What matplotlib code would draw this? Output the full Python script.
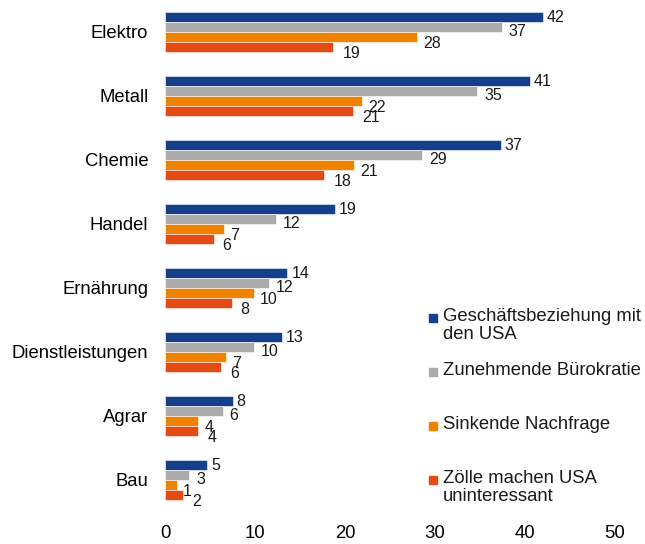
import matplotlib
matplotlib.use("Agg")
import matplotlib.pyplot as plt
import numpy as np

plt.rcParams['font.family'] = ['Liberation Sans', 'DejaVu Sans']

categories = ["Elektro", "Metall", "Chemie", "Handel", "Ernährung",
              "Dienstleistungen", "Agrar", "Bau"]
series_names = ["Geschäftsbeziehung mit\nden USA", "Zunehmende Bürokratie",
                "Sinkende Nachfrage", "Zölle machen USA\nuninteressant"]
colors = ["#133F8D", "#ABABAB", "#F18200", "#E64A12"]

# bar lengths as drawn
geschaeft = [42.0, 40.5, 37.3, 18.9, 13.6, 13.0, 7.5, 4.7]
buerokratie = [37.4, 34.7, 28.6, 12.3, 11.5, 9.9, 6.4, 2.7]
nachfrage = [28.0, 21.9, 21.0, 6.6, 9.9, 6.8, 3.7, 1.3]
zoelle = [18.7, 20.9, 17.7, 5.4, 7.4, 6.2, 3.7, 2.0]
# printed data labels
lab_geschaeft = [42, 41, 37, 19, 14, 13, 8, 5]
lab_buerokratie = [37, 35, 29, 12, 12, 10, 6, 3]
lab_nachfrage = [28, 22, 21, 7, 10, 7, 4, 1]
lab_zoelle = [19, 21, 18, 6, 8, 6, 4, 2]

xticks = [0, 10, 20, 30, 40, 50]

series = [geschaeft, buerokratie, nachfrage, zoelle]
labels = [lab_geschaeft, lab_buerokratie, lab_nachfrage, lab_zoelle]
lab_dx = [4, 7, 6, 9]
lab_dy = [-1, -4, -6, -7]

W, H = 645, 544
fig = plt.figure(figsize=(W / 100, H / 100), dpi=100)
ax = fig.add_axes([165 / W, 1 - 512 / H, 450 / W, 512 / H])

y = np.arange(len(categories))
bh = 10 / 64
offsets = np.array([-1.5, -0.5, 0.5, 1.5]) * bh
for vals, labs, off, c, dx, dy in zip(series, labels, offsets, colors, lab_dx, lab_dy):
    bars = ax.barh(y + off, vals, height=bh, color=c, edgecolor='white', linewidth=0.4)
    for b, lab in zip(bars, labs):
        ax.annotate(str(lab), (b.get_width(), b.get_y() + b.get_height() / 2),
                    xytext=(dx, dy), textcoords='offset pixels',
                    ha='left', va='center', fontsize=11.5, color='#1a1a1a')

ax.set_ylim(len(categories) - 0.5, -0.5)
ax.set_xlim(0, 50)
ax.set_yticks(y)
ax.set_yticklabels(categories, fontsize=13.3)
ax.set_xticks(xticks)
ax.set_xticklabels([str(t) for t in xticks], fontsize=13.3)
ax.tick_params(length=0, pad=12)
ax.tick_params(axis='x', pad=9)
for s in ax.spines.values():
    s.set_visible(False)

# legend
leg_y = [318, 372, 426, 480]
for name, c, ly in zip(series_names, colors, leg_y):
    fig.patches.append(plt.Rectangle(((429) / W, 1 - (ly + 4) / H), 8 / W, 8 / H,
                                     transform=fig.transFigure, color=c, figure=fig))
    fig.text(443 / W, 1 - (ly - 10) / H, name, ha='left', va='top',
             fontsize=13.3, color='#1a1a1a', linespacing=1.1)

fig.savefig("out.png", dpi=100)
